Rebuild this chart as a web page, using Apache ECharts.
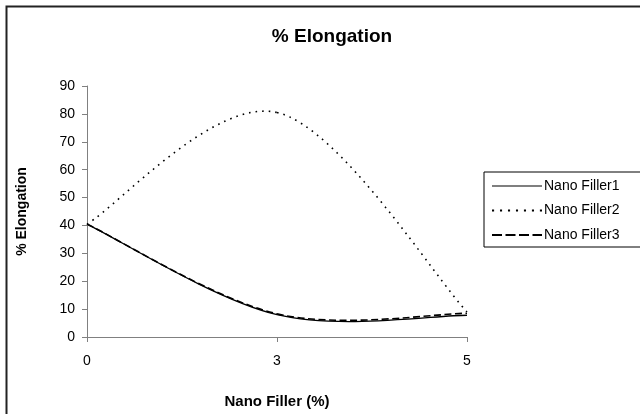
<!DOCTYPE html>
<html>
<head>
<meta charset="utf-8">
<script src="https://cdn.jsdelivr.net/npm/echarts@6/dist/echarts.min.js"></script>
<style>html,body{margin:0;padding:0;background:#fff;}#c{width:640px;height:414px;}</style>
</head>
<body>
<div id="c"></div>
<script>
var categories = ['0', '3', '5'];
var filler1 = [40.5, 8.0, 7.8];
var filler2 = [40.5, 80.5, 9.0];
var filler3 = [40.5, 8.3, 8.5];
var seriesNames = ['Nano Filler1', 'Nano Filler2', 'Nano Filler3'];
var yTicks = {min: 0, max: 90, interval: 10};

var chart = echarts.init(document.getElementById('c'), null, {renderer: 'canvas'});
var font = 'Arial, "Liberation Sans", sans-serif';

// Excel-like smoothed line (Catmull-Rom bezier through the data points, via the axes' coord())
function smoothSeries(name, values, dash, width) {
  return {
    name: name, type: 'custom', coordinateSystem: 'cartesian2d',
    data: values.map(function (v, i) { return [i, v]; }),
    encode: {x: 0, y: 1},
    itemStyle: {color: '#000'},
    silent: true,
    renderItem: function (params, api) {
      if (params.dataIndex !== 0) return null;
      var pts = values.map(function (v, i) { return api.coord([i, v]); });
      var children = [];
      for (var i = 0; i < pts.length - 1; i++) {
        var p0 = pts[i - 1] || pts[i], p1 = pts[i], p2 = pts[i + 1], p3 = pts[i + 2] || pts[i + 1];
        children.push({
          type: 'bezierCurve',
          shape: {
            x1: p1[0], y1: p1[1], x2: p2[0], y2: p2[1],
            cpx1: p1[0] + (p2[0] - p0[0]) / 6, cpy1: p1[1] + (p2[1] - p0[1]) / 6,
            cpx2: p2[0] - (p3[0] - p1[0]) / 6, cpy2: p2[1] - (p3[1] - p1[1]) / 6
          },
          style: {stroke: '#000', lineWidth: width, lineDash: dash, fill: null}
        });
      }
      return {type: 'group', children: children};
    }
  };
}
// legend icons drawn as small filled segments
function iconPath(dash, gap, total, thick) {
  var d = 'path://';
  if (!dash) return d + 'M0,0h' + total + 'v' + thick + 'h-' + total + 'z';
  for (var x = 0; x < total - 0.1; x += dash + gap) {
    var w = Math.min(dash, total - x);
    d += 'M' + x + ',0h' + w + 'v' + thick + 'h-' + w + 'z';
  }
  return d;
}

chart.setOption({
  animation: false,
  backgroundColor: '#fff',
  title: {
    text: '% Elongation', left: 327, top: 22, textAlign: 'center',
    textStyle: {fontFamily: font, fontWeight: 'bold', fontSize: 19, color: '#000'}
  },
  graphic: [{
    type: 'rect', shape: {x: 6.5, y: 6.5, width: 700, height: 500},
    style: {fill: 'none', stroke: '#222', lineWidth: 2}, silent: true, z: 0
  }],
  legend: {
    left: 484, top: 172, orient: 'vertical', itemWidth: 50, itemHeight: 12, itemGap: 10.5,
    padding: [7, 40, 5, 8], symbolKeepAspect: true,
    borderColor: '#000', borderWidth: 1, backgroundColor: '#fff',
    textStyle: {fontFamily: font, fontSize: 14, color: '#000', padding: [0, 0, 0, -3]},
    data: [
      {name: seriesNames[0], icon: iconPath(0, 0, 50, 1.2)},
      {name: seriesNames[1], icon: iconPath(2, 5.6, 50, 2)},
      {name: seriesNames[2], icon: iconPath(10, 3.5, 50, 2)}
    ]
  },
  grid: {left: 87, right: 173, top: 86, bottom: 75, containLabel: false},
  xAxis: {
    type: 'category', data: categories, boundaryGap: false,
    name: 'Nano Filler (%)', nameLocation: 'middle', nameGap: 57,
    nameTextStyle: {fontFamily: font, fontWeight: 'bold', fontSize: 15, color: '#000'},
    axisLine: {lineStyle: {color: '#808080', width: 1}},
    axisTick: {show: true, length: 5, inside: false, alignWithLabel: true, lineStyle: {color: '#808080'}},
    axisLabel: {fontFamily: font, fontSize: 14, color: '#000', margin: 17},
    splitLine: {show: false}
  },
  yAxis: {
    type: 'value', min: yTicks.min, max: yTicks.max, interval: yTicks.interval,
    name: '% Elongation', nameLocation: 'middle', nameGap: 58, nameRotate: 90,
    nameTextStyle: {fontFamily: font, fontWeight: 'bold', fontSize: 14, color: '#000'},
    axisLine: {show: true, lineStyle: {color: '#808080', width: 1}},
    axisTick: {show: true, length: 5, lineStyle: {color: '#808080'}},
    axisLabel: {fontFamily: font, fontSize: 14, color: '#000', margin: 12},
    splitLine: {show: false}
  },
  series: [
    smoothSeries(seriesNames[0], filler1, null, 1.3),
    smoothSeries(seriesNames[1], filler2, [1.6, 5], 1.6),
    smoothSeries(seriesNames[2], filler3, [7, 3.5], 1.6)
  ]
});
</script>
</body>
</html>
